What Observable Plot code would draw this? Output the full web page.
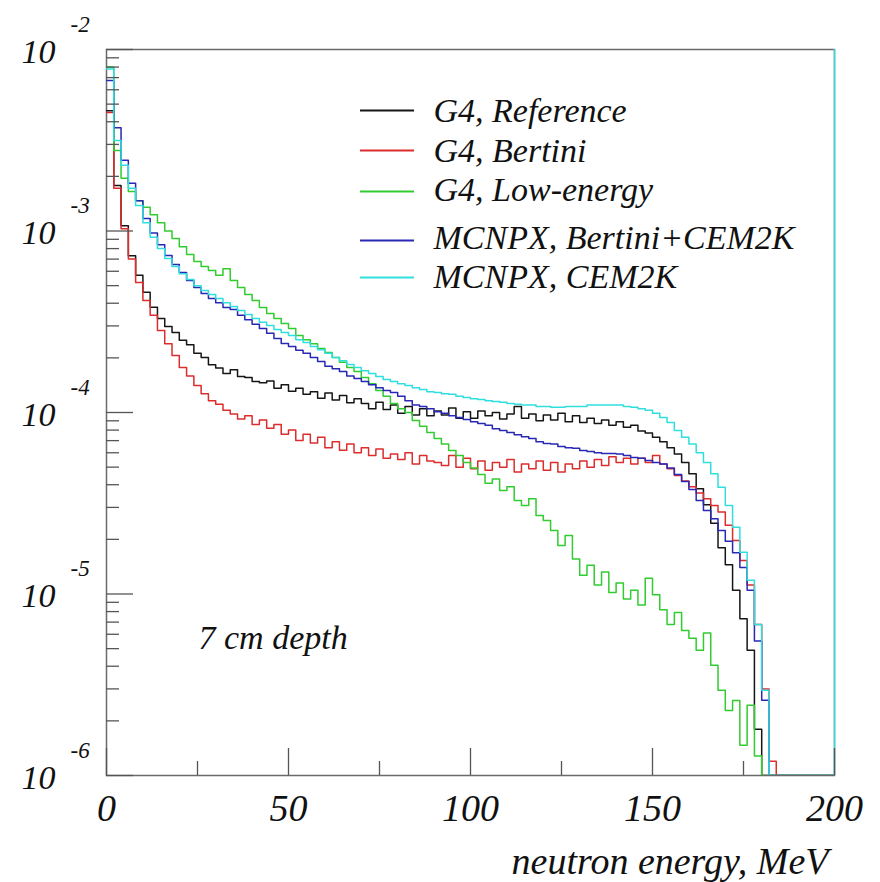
<!DOCTYPE html>
<html><head><meta charset="utf-8">
<script src="https://cdn.jsdelivr.net/npm/d3@7"></script>
<script src="https://cdn.jsdelivr.net/npm/@observablehq/plot@0.6"></script>
<style>
body{margin:0;background:#fff}
#chart svg text, #chart svg tspan { font-family: "Liberation Serif", "Times New Roman", Times, "Tinos", "DejaVu Serif", "Noto Serif", serif !important; font-style: italic; }
</style>
</head><body><div id="chart"></div>
<script>
// Histograms: 2 MeV bins from 0 to 200 MeV, values in units of 1e-5
const BIN = 2;
const UNIT = 1e-5;

const g4Reference = [460,178,107,73,57,46,38,33,29.8,27.6,25.0,23.6,21.2,20.1,18.3,17.6,16.4,
 17.2,15.8,15.6,14.8,14.6,14.9,13.6,14.2,13.1,13.6,12.6,13.0,12.0,12.8,11.7,12.4,
 11.3,11.9,11.2,10.5,11.4,10.4,11.0,9.9,10.8,9.7,10.5,9.6,10.2,9.7,10.6,9.3,
 10.1,9.3,10.2,9.6,10.0,9.2,9.8,10.8,9.3,9.8,9.0,9.7,9.1,9.9,8.9,9.6,
 8.8,9.3,8.7,9.1,8.5,8.9,8.3,8.5,7.9,7.7,7.3,6.9,6.4,5.9,5.3,4.6,
 3.8,3.1,2.45,1.8,1.45,1.05,0.73,0.49,0.18,0,0,
 0,0,0,0,0,0,0,0];

const g4Bertini = [450,172,103,70,52,41.4,34.3,28.3,23.9,20.6,17.7,15.9,14.1,12.7,11.6,11.1,10.3,
 9.8,9.2,9.6,8.6,9.1,8.2,8.6,7.6,8.0,7.0,7.6,6.8,7.3,6.4,6.9,6.2,
 6.7,6.0,6.4,5.8,6.3,5.6,5.9,5.5,6.0,5.2,5.8,5.4,5.3,5.1,5.8,5.0,
 5.6,4.9,5.4,4.8,5.3,5.0,5.5,4.7,5.2,4.9,5.4,4.8,5.3,4.7,5.2,4.9,
 5.4,5.0,5.5,5.1,5.7,5.3,5.6,5.2,5.6,5.3,5.8,5.2,4.9,4.5,4.2,3.9,
 3.6,3.35,3.07,2.83,2.39,1.97,1.53,1.12,0.68,0.3,0.12,
 0,0,0,0,0,0,0,0];

const g4LowEnergy = [800,278,195,165,147,135,123,111,100,90.8,82,74.3,68,63.8,60.6,57,62,
 53.4,48.9,44.7,41.4,37.9,35.1,33.0,30.9,29.0,26.6,25.2,23.9,22.5,21.4,20.1,18.9,
 17.7,16.8,15.6,14.4,13.2,12.3,11.2,10.5,10.0,9.03,8.4,7.75,7.2,6.7,6.17,5.8,
 5.3,4.95,4.55,4.07,4.3,3.72,3.9,3.27,3.07,3.35,2.71,2.54,2.24,1.85,2.1,1.56,
 1.27,1.44,1.12,1.32,1.02,1.15,0.94,1.05,0.87,1.22,0.99,0.82,0.68,0.79,0.63,0.57,
 0.49,0.61,0.405,0.295,0.228,0.259,0.147,0.244,0.128,0,0,
 0,0,0,0,0,0,0,0];

const mcnpxBertiniCem = [675,370,245,183,147,117,97.5,84,73.3,65.3,59.0,53.4,48.9,45.2,42.5,40.3,37.9,
 36.9,34.3,32.4,30.6,29.0,27.3,25.6,24.0,23.1,22.0,21.2,20.1,19.1,18.0,17.4,16.8,
 15.9,15.4,14.8,14.2,13.7,13.2,12.9,12.3,11.6,11.0,10.8,10.5,10.1,9.9,9.6,9.4,
 9.15,8.9,8.7,8.5,8.15,7.96,7.75,7.55,7.35,7.2,6.9,6.75,6.7,6.5,6.4,6.35,
 6.17,6.1,6.0,5.95,5.95,5.9,5.8,5.65,5.6,5.44,5.3,5.2,4.95,4.55,4.17,3.77,
 3.27,2.88,2.6,2.24,1.95,1.69,1.40,1.05,0.55,0.26,0,
 0,0,0,0,0,0,0,0];

const mcnpxCem = [780,315,230,172,138,111,92.5,80,70.5,63.8,58.2,54.0,50.0,47.0,44.7,42.5,40.3,
 38.4,36.5,34.7,33.0,31.4,30.2,28.7,27.6,26.6,25.2,24.3,23.1,22.2,21.2,20.1,19.3,
 18.4,17.7,17.0,16.4,15.8,15.2,14.8,14.4,14.1,13.7,13.4,13.0,12.9,12.7,12.6,12.3,
 12.1,11.9,11.8,11.6,11.5,11.4,11.2,11.1,11.0,11.0,10.8,10.8,10.7,10.7,10.8,10.8,
 10.8,11.0,11.0,11.0,11.0,11.0,10.8,10.7,10.5,10.3,9.9,9.4,8.8,7.96,7.3,6.7,
 6.0,5.3,4.6,3.87,3.07,2.33,1.70,1.19,0.68,0.295,0,
 0,0,0,0,0,0,0,0];

const seriesNames = ["G4, Reference","G4, Bertini","G4, Low-energy","MCNPX, Bertini+CEM2K","MCNPX, CEM2K"];
const seriesColors = ["#161616","#dc2c2c","#30cc30","#2828b4","#30dede"];
const seriesValues = [g4Reference, g4Bertini, g4LowEnergy, mcnpxBertiniCem, mcnpxCem];

const xTicksMajor = [0,50,100,150,200];
const xTicksMinor = [25,75,125,175];
const yDecades = [-2,-3,-4,-5,-6];
const xTitle = "neutron energy, MeV";
const annotation = "7 cm depth";

const FLOOR = 1e-6;
const yMajor = yDecades.map(d => 10 ** d);
const yMinor = [];
for (let d = -6; d <= -3; d++) for (let m = 2; m <= 9; m++) yMinor.push(m * 10 ** d);

function steps(vals) {
  const pts = vals.map((v, i) => ({e: i * BIN, v: v * UNIT}));
  pts.push({e: vals.length * BIN, v: vals[vals.length - 1] * UNIT});
  return pts;
}

const txt = {fontStyle: "italic", fill: "#111"};
const legendRuleDy = [61, 101, 142, 191, 228];
const legendTextDy = [72, 112, 151, 199, 238];

const chart = Plot.plot({
  width: 880,
  height: 882,
  marginTop: 49,
  marginBottom: 107,
  marginLeft: 106,
  marginRight: 46,
  x: {domain: [0, 200]},
  y: {type: "log", domain: [1e-6, 1e-2]},
  marks: [
    Plot.frame({stroke: "#6a6a6a", strokeWidth: 1.5}),
    ...seriesValues.map((vals, k) => Plot.line(steps(vals), {
      x: "e", y: d => (d.v > 0 ? d.v : FLOOR), curve: "step-after",
      stroke: seriesColors[k], strokeWidth: 1.5, clip: true
    })),
    Plot.ruleX([200], {stroke: seriesColors[4], strokeWidth: 1.5}),
    Plot.axisY(yMajor, {anchor: "left", tickSize: 27, dx: 27, tickFormat: () => "", label: null, stroke: "#555", strokeWidth: 1.3}),
    Plot.axisY(yMinor, {anchor: "left", tickSize: 13, dx: 13, tickFormat: () => "", label: null, stroke: "#555", strokeWidth: 1.3}),
    Plot.axisX(xTicksMajor, {anchor: "bottom", tickSize: 27, dy: -27, tickFormat: () => "", label: null, stroke: "#555", strokeWidth: 1.3}),
    Plot.axisX(xTicksMinor, {anchor: "bottom", tickSize: 14, dy: -14, tickFormat: () => "", label: null, stroke: "#555", strokeWidth: 1.3}),
    Plot.text(yDecades, {y: d => 10 ** d, frameAnchor: "left", text: () => "10", dx: -51, dy: 13, textAnchor: "end", lineAnchor: "bottom", fontSize: 34, ...txt}),
    Plot.text(yDecades, {y: d => 10 ** d, frameAnchor: "left", text: d => String(d), dx: -36, dy: -18, textAnchor: "start", lineAnchor: "bottom", fontSize: 23, ...txt}),
    Plot.text(xTicksMajor, {x: d => d, frameAnchor: "bottom", text: d => String(d), dy: 45, lineAnchor: "bottom", fontSize: 38, ...txt}),
    Plot.text([xTitle], {frameAnchor: "bottom-right", dx: -6, dy: 98, textAnchor: "end", lineAnchor: "bottom", fontSize: 38, ...txt}),
    Plot.text([annotation], {frameAnchor: "top-left", dx: 92, dy: 599, textAnchor: "start", lineAnchor: "bottom", fontSize: 34, ...txt}),
    ...seriesNames.map((n, k) => Plot.ruleY([1e-2], {dy: legendRuleDy[k], insetLeft: 254, insetRight: 420, stroke: seriesColors[k], strokeWidth: 2})),
    ...seriesNames.map((n, k) => Plot.text([n], {frameAnchor: "top-left", dx: 327, dy: legendTextDy[k], textAnchor: "start", lineAnchor: "bottom", fontSize: 34, ...txt}))
  ]
});
document.getElementById("chart").appendChild(chart);
</script>
</body></html>
